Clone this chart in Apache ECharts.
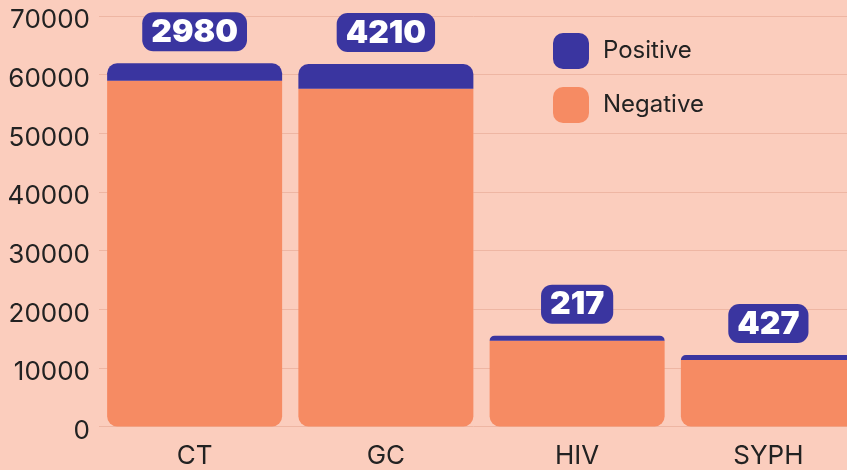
<!DOCTYPE html>
<html><head><meta charset="utf-8">
<script src="https://cdn.jsdelivr.net/npm/echarts@6/dist/echarts.min.js"></script>
<style>html,body{margin:0;padding:0;background:#fbcdbd;}#c{width:847px;height:470px;}</style>
</head><body><div id="c"></div>
<script>
const categories = ['CT', 'GC', 'HIV', 'SYPH'];
const negativeValues = [58960, 57590, 14640, 11350];
const positiveValues = [2980, 4210, 217, 427];
const yTicks = [0, 10000, 20000, 30000, 40000, 50000, 60000, 70000];

const chart = echarts.init(document.getElementById('c'));
const FONT = 'Inter, "Noto Sans", sans-serif';
chart.setOption({
  backgroundColor: '#fbcdbd',
  animation: false,
  textStyle: { fontFamily: FONT },
  grid: { left: 99, width: 765, top: 16, height: 410.5, containLabel: false, outerBoundsMode: 'none' },
  legend: {
    data: ['Positive', 'Negative'],
    orient: 'vertical',
    left: 553, top: 33, padding: 0,
    itemWidth: 36, itemHeight: 36, itemGap: 18,
    icon: 'path://M10,0 H26 A10,10 0 0 1 36,10 V26 A10,10 0 0 1 26,36 H10 A10,10 0 0 1 0,26 V10 A10,10 0 0 1 10,0 Z',
    textStyle: { fontSize: 24, color: '#222', fontFamily: FONT, padding: [0, 0, 0, 9] }
  },
  xAxis: {
    type: 'category', data: categories,
    axisLine: { show: false }, axisTick: { show: false },
    axisLabel: { fontSize: 26, color: '#222', margin: 17, fontFamily: FONT }
  },
  yAxis: {
    type: 'value', min: yTicks[0], max: yTicks[yTicks.length - 1], interval: yTicks[1] - yTicks[0],
    axisLine: { show: false }, axisTick: { show: false },
    axisLabel: {
      color: '#222', margin: 9,
      formatter: v => '{a|' + v + '}',
      rich: { a: { fontSize: 26, color: '#222', fontFamily: FONT, padding: [9, 0, 0, 0] } }
    },
    splitLine: { lineStyle: { color: '#eeb6a3', width: 1 } }
  },
  series: [
    {
      name: 'Negative', type: 'bar', stack: 'total', data: negativeValues,
      barWidth: 175,
      itemStyle: { color: '#f68b63', borderRadius: [0, 0, 10, 10] }
    },
    {
      name: 'Positive', type: 'bar', stack: 'total', data: positiveValues,
      barWidth: 175, barMinHeight: 5,
      itemStyle: { color: '#3a35a0', borderRadius: [10, 10, 0, 0] },
      label: {
        show: true, position: 'top', distance: 12,
        color: '#fff', fontSize: 32, fontWeight: 900, fontFamily: FONT,
        backgroundColor: '#3a35a0', borderRadius: 11, padding: [4, 9, 3, 9]
      }
    }
  ]
});
</script></body></html>
